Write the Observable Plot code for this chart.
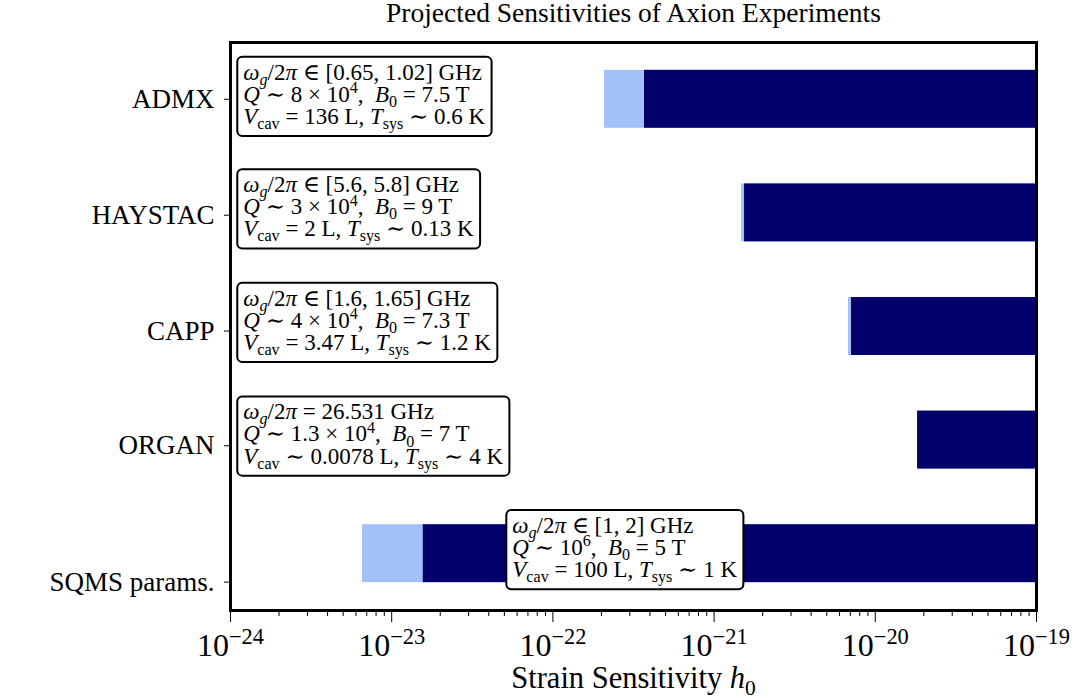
<!DOCTYPE html>
<html><head><meta charset="utf-8">
<script src="https://cdn.jsdelivr.net/npm/d3@7"></script>
<script src="https://cdn.jsdelivr.net/npm/@observablehq/plot@0.6"></script>
<style>
body{margin:0;background:#fff;}
#chart{width:1080px;height:698px;}
svg text{white-space:pre;}
</style></head><body><div id="chart"></div>
<script>
// ---- data ----
const chartTitle = "Projected Sensitivities of Axion Experiments";
const xLabel = "Strain Sensitivity $h$_{0}";
const experiments = ["ADMX", "HAYSTAC", "CAPP", "ORGAN", "SQMS params."];
const barPos = [0, 1, 2, 3, 4];
const labelPos = [0, 1.02, 2.04, 3.05, 4.25];
const lightStart = [2.09e-22, 1.48e-21, 6.82e-21, 1.83e-20, 6.59e-24];
const darkStart = [3.70e-22, 1.545e-21, 7.12e-21, 1.83e-20, 1.57e-23];
const barEnd = [1e-19, 1e-19, 1e-19, 1e-19, 1e-19];
const xDecades = [1e-24, 1e-23, 1e-22, 1e-21, 1e-20, 1e-19];
const xExponents = [-24, -23, -22, -21, -20, -19];
const annX = [1.2e-24, 1.2e-24, 1.2e-24, 1.2e-24, 5.6e-23];
const annY = [-0.04, 0.95, 1.95, 2.95, 3.95];
const annLines = [
  ["$ω_{g}$/2$π$ ∈ [0.65, 1.02] GHz", "$Q$ ∼ 8 × 10^{4},  $B$_{0} = 7.5 T", "$V$_{cav} = 136 L, $T$_{sys} ∼ 0.6 K"],
  ["$ω_{g}$/2$π$ ∈ [5.6, 5.8] GHz", "$Q$ ∼ 3 × 10^{4},  $B$_{0} = 9 T", "$V$_{cav} = 2 L, $T$_{sys} ∼ 0.13 K"],
  ["$ω_{g}$/2$π$ ∈ [1.6, 1.65] GHz", "$Q$ ∼ 4 × 10^{4},  $B$_{0} = 7.3 T", "$V$_{cav} = 3.47 L, $T$_{sys} ∼ 1.2 K"],
  ["$ω_{g}$/2$π$ = 26.531 GHz", "$Q$ ∼ 1.3 × 10^{4},  $B$_{0} = 7 T", "$V$_{cav} ∼ 0.0078 L, $T$_{sys} ∼ 4 K"],
  ["$ω_{g}$/2$π$ ∈ [1, 2] GHz", "$Q$ ∼ 10^{6},  $B$_{0} = 5 T", "$V$_{cav} = 100 L, $T$_{sys} ∼ 1 K"]
];
const lightColor = "#a3c1f9";
const darkColor = "#02016c";

// ---- build ----
const rows = experiments.map((name, i) => ({name, pos: barPos[i], light: lightStart[i], dark: darkStart[i], end: barEnd[i]}));
const ann = annLines.map((l, i) => ({x: annX[i], y: annY[i], text: l.join("\n")}));
const minorTicks = [];
xDecades.slice(0, -1).forEach(d => { for (let k = 2; k <= 9; k++) minorTicks.push(d * k); });
const half = 0.255;
const FONT = "'Liberation Serif', 'DejaVu Serif', serif";

const chart = Plot.plot({
  width: 1080, height: 698,
  marginLeft: 230, marginRight: 44, marginTop: 42, marginBottom: 88,
  style: {fontFamily: FONT, background: "white", color: "black"},
  x: {type: "log", domain: [1e-24, 1e-19]},
  y: {domain: [-0.5, 4.5], reverse: true},
  marks: [
    Plot.rect(rows, {x1: "light", x2: "end", y1: d => d.pos - half, y2: d => d.pos + half, fill: lightColor}),
    Plot.rect(rows, {x1: "dark", x2: "end", y1: d => d.pos - half, y2: d => d.pos + half, fill: darkColor}),
    Plot.axisX({ticks: minorTicks, tickSize: 6, tickFormat: () => "", label: null}),
    Plot.axisX({ticks: xDecades, tickSize: 12, tickPadding: 11, fontSize: 32,
      tickFormat: d => "10^{−" + Math.abs(xExponents[xDecades.indexOf(d)] ?? Math.round(Math.log10(d))) + "}", label: null}),
    Plot.axisY({ticks: labelPos, tickSize: 6, tickPadding: 10, fontSize: 27,
      tickFormat: d => experiments[labelPos.indexOf(d)], label: null}),
    Plot.frame({stroke: "black", strokeWidth: 3}),
    Plot.text(ann, {x: "x", y: "y", text: "text", textAnchor: "start", lineAnchor: "middle",
      fontSize: 23, lineHeight: 0.96, fill: "black"}),
    Plot.text([chartTitle], {frameAnchor: "top", dy: -29, lineAnchor: "middle", fontSize: 27.5, fill: "black"}),
    Plot.text([xLabel], {frameAnchor: "bottom", dy: 68, lineAnchor: "middle", fontSize: 30.5, fill: "black"})
  ]
});
document.getElementById("chart").appendChild(chart);

// ---- rich text (italic, sub/superscripts) ----
function parseRich(s) {
  const out = []; let italic = false, shift = null, buf = "";
  const flush = () => { if (buf) { out.push({t: buf, it: italic, sh: shift}); buf = ""; } };
  for (let i = 0; i < s.length; i++) {
    const c = s[i];
    if (c === "$") { flush(); italic = !italic; }
    else if ((c === "_" || c === "^") && s[i + 1] === "{") { flush(); shift = c === "_" ? "sub" : "sup"; i++; }
    else if (c === "}" && shift) { flush(); shift = null; }
    else buf += c;
  }
  flush(); return out;
}
const NS = "http://www.w3.org/2000/svg";
function applyRich(el) {
  const str = el.textContent;
  if (!/[$]|[_^]\{/.test(str)) return;
  const size = parseFloat(getComputedStyle(el).fontSize) || 16;
  el.textContent = "";
  let off = 0;
  for (const s of parseRich(str)) {
    const t = document.createElementNS(NS, "tspan");
    const target = s.sh === "sub" ? 0.22 * size : s.sh === "sup" ? -0.38 * size : 0;
    if (target !== off) { t.setAttribute("dy", target - off); off = target; }
    t.setAttribute("font-size", s.sh ? size * 0.7 : size);
    if (s.it) t.setAttribute("font-style", "italic");
    t.textContent = s.t;
    el.appendChild(t);
  }
  if (off !== 0) {
    const t = document.createElementNS(NS, "tspan");
    t.setAttribute("dy", -off); t.textContent = "\u200B"; el.appendChild(t);
  }
}
const svg = chart.tagName.toLowerCase() === "svg" ? chart : chart.querySelector("svg");
const annTexts = [];
svg.querySelectorAll("text").forEach(t => {
  if (t.textContent.includes("GHz")) annTexts.push(t);
  const lines = t.querySelectorAll(":scope > tspan");
  if (lines.length) lines.forEach(applyRich); else applyRich(t);
});

// ---- annotation boxes ----
annTexts.forEach(t => {
  let b;
  try { b = t.getBBox(); } catch (e) { return; }
  const padX = 6, padY = 3;
  const r = document.createElementNS(NS, "rect");
  r.setAttribute("x", b.x - padX); r.setAttribute("y", b.y - padY);
  r.setAttribute("width", b.width + 2 * padX); r.setAttribute("height", b.height + 2 * padY);
  r.setAttribute("rx", 5); r.setAttribute("fill", "white");
  r.setAttribute("stroke", "black"); r.setAttribute("stroke-width", 2);
  if (t.getAttribute("transform")) r.setAttribute("transform", t.getAttribute("transform"));
  t.parentNode.insertBefore(r, t);
});
</script></body></html>
